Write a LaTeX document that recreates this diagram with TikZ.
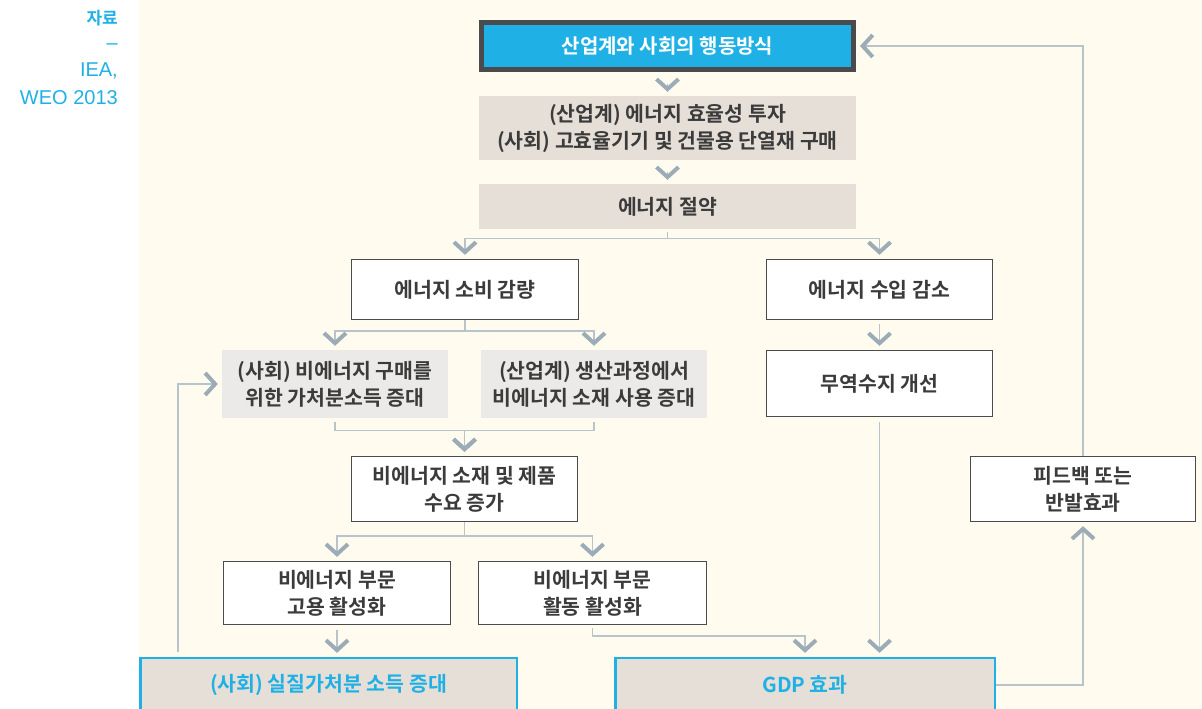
\documentclass[tikz,border=0pt]{standalone}
\usepackage{fontspec}
\setmainfont{Noto Sans CJK KR}[BoldFont={Noto Sans CJK KR Bold}]
\newfontfamily\latinfont{Liberation Sans}
\usepackage{tikz}
\usetikzlibrary{arrows.meta}
\definecolor{creamc}{HTML}{FFFCEF}
\definecolor{skyc}{HTML}{1FB1E6}
\definecolor{edgec}{HTML}{4A4B4D}
\definecolor{beigec}{HTML}{E6DFD8}
\definecolor{palec}{HTML}{EBEAE8}
\definecolor{linec}{HTML}{B8C4CA}
\definecolor{tipc}{HTML}{9BACB7}
\definecolor{txtc}{HTML}{3B3B3B}
\tikzset{
	cbox/.style 2 args={draw=edgec,fill=skyc,line width=5pt,text=white,minimum width=#1,minimum height=#2,font=\fontsize{20}{27}\selectfont\bfseries},
	gbox/.style 2 args={fill=beigec,minimum width=#1,minimum height=#2},
	lbox/.style 2 args={fill=palec,minimum width=#1,minimum height=#2},
	wbox/.style 2 args={draw=edgec,fill=white,line width=1.3pt,minimum width=#1,minimum height=#2},
	bbox/.style 2 args={draw=skyc,fill=beigec,line width=2.5pt,text=skyc,minimum width=#1,minimum height=#2},
	flow/.style={draw=linec,line width=1.4pt,-{Straight Barb[length=10pt,width=22pt,line width=4pt,color=tipc]},shorten >=4pt},
	src/.style={text=skyc,anchor=base east,font=\latinfont\fontsize{20}{24}\selectfont}
}
\begin{document}
\begin{tikzpicture}[x=1pt,y=-1pt,every node/.style={inner sep=0pt,align=center,text=txtc,font=\fontsize{20.5}{27}\selectfont\bfseries}]
	\useasboundingbox (0,0) rectangle (1202,709);
	\fill [white] (0,0) rectangle (139,709);
	\fill [creamc] (139,0) rectangle (1202,709);

	\node [src,font=\fontsize{17}{20}\selectfont\bfseries] (s1) at (118,25) {자료};
	\node [src] (s2) at (118,49) {–};
	\node [src] (s3) at (118,77) {IEA,};
	\node [src] (s4) at (118,104) {WEO 2013};

	\node [cbox={372pt}{47pt}] (top) at (667.5,46) {산업계와 사회의 행동방식};
	\node [gbox={377pt}{64pt}] (invest) at (667.5,128) {(산업계) 에너지 효율성 투자\\(사회) 고효율기기 및 건물용 단열재 구매};
	\node [gbox={377pt}{45pt}] (save) at (667.5,206.5) {에너지 절약};
	\node [wbox={227pt}{60pt}] (cut) at (465,289.5) {에너지 소비 감량};
	\node [wbox={226pt}{60pt}] (imp) at (879.5,289.5) {에너지 수입 감소};
	\node [lbox={226pt}{68pt}] (home) at (335,384) {(사회) 비에너지 구매를\\위한 가처분소득 증대};
	\node [lbox={226pt}{68pt}] (firm) at (594,384) {(산업계) 생산과정에서\\비에너지 소재 사용 증대};
	\node [wbox={226pt}{66pt}] (trade) at (879.5,383.5) {무역수지 개선};
	\node [wbox={226pt}{65pt}] (need) at (464.5,489) {비에너지 소재 및 제품\\수요 증가};
	\node [wbox={227pt}{63pt}] (jobs) at (337,593) {비에너지 부문\\고용 활성화};
	\node [wbox={228pt}{63pt}] (work) at (592.5,593) {비에너지 부문\\활동 활성화};
	\node [wbox={225pt}{65pt}] (back) at (1083,489) {피드백 또는\\반발효과};
	\node [bbox={376.5pt}{53.75pt}] (real) at (328.5,685) {(사회) 실질가처분 소득 증대};
	\node [bbox={379.5pt}{53.75pt}] (gdp) at (805,685) {GDP 효과};

	\draw [flow,shorten <=12pt] (top) -- (invest);
	\draw [flow,shorten <=12pt] (invest) -- (save);
	\draw [flow,shorten <=3pt] (save.south) -- ++(0,9) -| (cut.north);
	\draw [flow,shorten <=3pt] (save.south) -- ++(0,9) -| (imp.north);
	\draw [flow] (cut.south) -- ++(0,11) -| (home.north);
	\draw [flow] (cut.south) -- ++(0,11) -| (firm.north);
	\draw [flow,shorten <=4pt] (home.south) -- ++(0,12) -| (need.north);
	\draw [flow,shorten <=4pt] (firm.south) -- ++(0,12) -| (need.north);
	\draw [flow] (need.south) -- ++(0,14) -| (jobs.north);
	\draw [flow] (need.south) -- ++(0,14) -| (work.north);
	\draw [flow,shorten <=5pt] (jobs) -- (jobs.south |- real.north);
	\draw [flow,shorten <=3pt] (work.south) -- ++(0,11) -| (gdp.north);
	\draw [flow,shorten <=4pt] (imp) -- (trade);
	\draw [flow,shorten <=5pt] (trade) -- (trade.south |- gdp.north);
	\draw [flow] (gdp.east) -| (back.south);
	\draw [flow] (back.north) |- (top.east);
	\draw [flow,shorten <=5pt] ([xshift=39pt]real.north west) |- (home.west);
\end{tikzpicture}
\end{document}
